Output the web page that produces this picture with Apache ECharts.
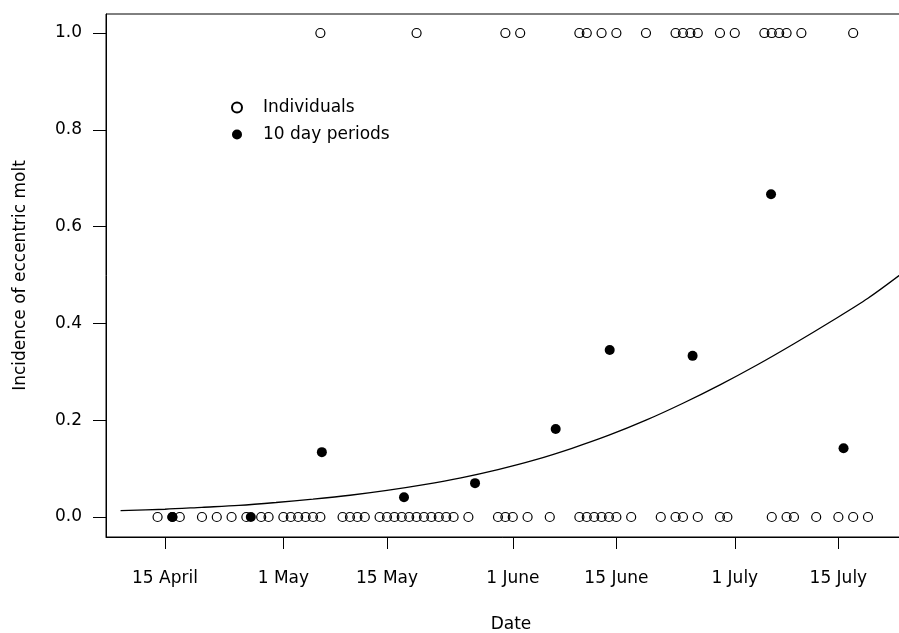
<!DOCTYPE html>
<html>
<head>
<meta charset="utf-8">
<script src="https://cdn.jsdelivr.net/npm/echarts@6/dist/echarts.min.js"></script>
<style>
html,body{margin:0;padding:0;background:#fff;}
#chart{width:899px;height:633px;}
</style>
</head>
<body>
<div id="chart"></div>
<script>
// Day of year (non-leap): 15 April = 105
const tickDays = [105, 121, 135, 152, 166, 182, 196];
const tickLabels = ['15 April', '1 May', '15 May', '1 June', '15 June', '1 July', '15 July'];
const yTicks = [0, 0.2, 0.4, 0.6, 0.8, 1.0];

// Individuals with eccentric molt = 0
const indivDays0 = [104,106,107,110,112,114,116,118,119,121,122,123,124,125,126,129,130,131,132,
  134,135,136,137,138,139,140,141,142,143,144,146,150,151,152,154,157,161,162,163,164,165,166,
  168,172,174,175,177,180,181,187,189,190,193,196,198,200];
// Individuals with eccentric molt = 1
const indivDays1 = [126,139,151,153,161,162,164,166,170,174,175,176,177,180,182,186,187,188,189,191,198];

// 10 day periods
const periodDays = [106.0, 116.6, 126.2, 137.3, 146.9, 157.8, 165.1, 176.3, 186.9, 196.7];
const periodVals = [0.0, 0.0, 0.134, 0.041, 0.070, 0.182, 0.345, 0.333, 0.667, 0.142];

// Fitted curve
const curveDays = [99,105,110,115,120,125,130,135,140,145,150,155,160,165,170,175,180,185,190,195,200,205];
const curveVals = [0.013,0.016,0.020,0.024,0.030,0.037,0.045,0.055,0.067,0.081,0.098,0.118,0.142,0.169,0.200,0.235,0.273,0.314,0.358,0.404,0.452,0.508];

const FONT = 'DejaVu Sans';
const indivData = indivDays0.map(d => [d, 0]).concat(indivDays1.map(d => [d, 1]));
const periodData = periodDays.map((d, i) => [d, periodVals[i]]);
const curveData = curveDays.map((d, i) => [d, curveVals[i]]);

const xMin = 97.03, xMax = 206.49;
const yMin = -0.0413, yMax = 1.0393;

const chart = echarts.init(document.getElementById('chart'), null, {renderer: 'canvas'});
chart.setOption({
  animation: false,
  backgroundColor: '#fff',
  textStyle: {fontFamily: FONT, color: '#000'},
  grid: {left: 106, top: 14, width: 810, height: 523, show: true, borderColor: '#000', borderWidth: 1,
    backgroundColor: 'transparent', containLabel: false, outerBoundsMode: 'none'},
  legend: {
    orient: 'vertical', left: 226, top: 94, itemWidth: 10, itemHeight: 10, itemGap: 10,
    data: ['Individuals', '10 day periods'],
    textStyle: {fontFamily: FONT, fontSize: 17, color: '#000', padding: [0, 0, 0, 16]},
    selectedMode: false
  },
  xAxis: {
    type: 'value', min: xMin, max: xMax,
    name: 'Date', nameLocation: 'middle', nameGap: 79,
    nameTextStyle: {fontFamily: FONT, fontSize: 17, color: '#000'},
    axisLine: {show: true, onZero: false, lineStyle: {color: '#000', width: 1}},
    axisTick: {show: true, inside: false, length: 12, customValues: tickDays, lineStyle: {color: '#000', width: 1}},
    axisLabel: {show: true, margin: 33, fontFamily: FONT, fontSize: 17, color: '#000',
      customValues: tickDays,
      formatter: v => { const i = tickDays.indexOf(Math.round(v)); return i >= 0 ? tickLabels[i] : ''; }},
    splitLine: {show: false}
  },
  yAxis: {
    type: 'value', min: yMin, max: yMax,
    name: 'Incidence of eccentric molt', nameLocation: 'middle', nameGap: 77, nameRotate: 90,
    nameTextStyle: {fontFamily: FONT, fontSize: 17, color: '#000'},
    axisLine: {show: true, onZero: false, lineStyle: {color: '#000', width: 1}},
    axisTick: {show: true, inside: false, length: 13, customValues: yTicks, lineStyle: {color: '#000', width: 1}},
    axisLabel: {show: true, margin: 24, fontFamily: FONT, fontSize: 17, color: '#000',
      customValues: yTicks, formatter: v => v.toFixed(1)},
    splitLine: {show: false}
  },
  series: [
    {
      name: 'Individuals', type: 'scatter', data: indivData, symbol: 'circle', symbolSize: 9,
      itemStyle: {color: 'rgba(255,255,255,0)', borderColor: '#000', borderWidth: 1.2, opacity: 1},
      emphasis: {disabled: true}, z: 2
    },
    {
      name: 'fit', type: 'line', data: curveData, smooth: 0.3, showSymbol: false, symbol: 'none',
      lineStyle: {color: '#000', width: 1.3}, emphasis: {disabled: true}, z: 3, clip: true
    },
    {
      name: '10 day periods', type: 'scatter', data: periodData, symbol: 'circle', symbolSize: 10,
      itemStyle: {color: '#000', borderColor: '#000', borderWidth: 0, opacity: 1},
      emphasis: {disabled: true}, z: 4
    }
  ]
});
</script>
</body>
</html>
